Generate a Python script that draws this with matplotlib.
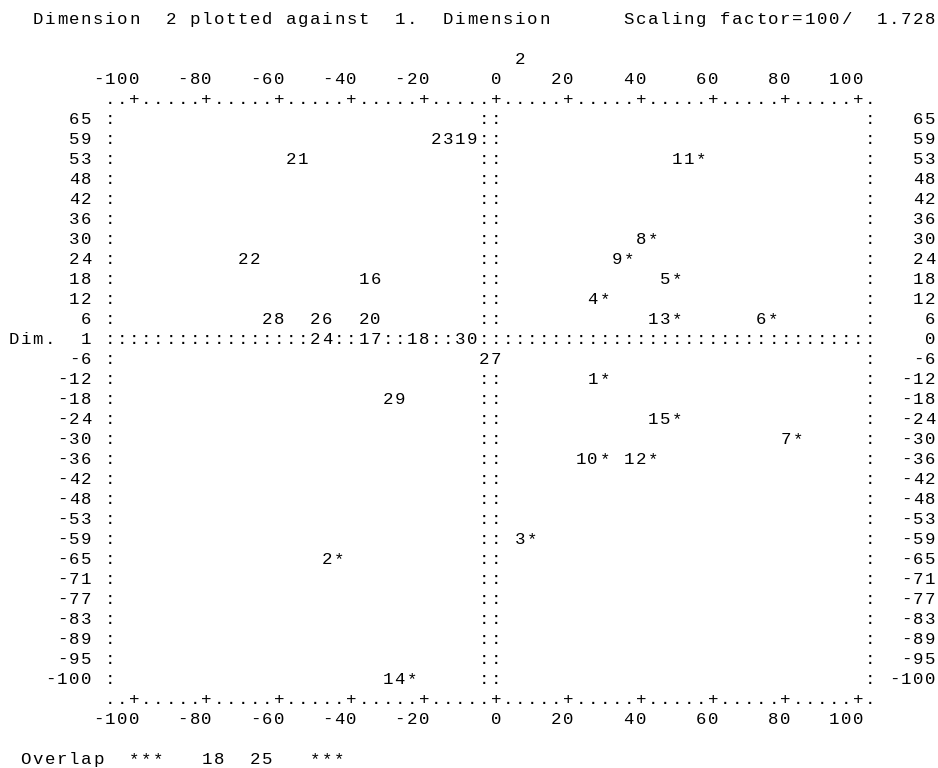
import matplotlib.pyplot as plt

# object labels and their scores on dimension 1 / dimension 2 (x100/1.728)
labels = ['23', '19', '21', '11*', '8*', '22', '9*', '16', '5*', '4*',
          '28', '26', '20', '13*', '6*', '24', '17', '25', '18', '30',
          '27', '1*', '29', '15*', '7*', '10*', '12*', '3*', '2*', '14*']
dim1 = [-17, -10, -57, 50, 40, -70, 33, -37, 47, 27,
        -63, -50, -37, 43, 73, -50, -37, -23, -23, -10,
        -3, 27, -30, 43, 80, 23, 37, 7, -47, -30]
dim2 = [59, 59, 53, 53, 30, 24, 24, 18, 18, 12,
        6, 6, 6, 6, 6, 0, 0, 0, 0, 0,
        -6, -12, -18, -24, -30, -36, -36, -59, -65, -100]

x_ticks = [-100, -80, -60, -40, -20, 0, 20, 40, 60, 80, 100]
y_rows = [65, 59, 53, 48, 42, 36, 30, 24, 18, 12, 6, 0,
          -6, -12, -18, -24, -30, -36, -42, -48, -53, -59, -65,
          -71, -77, -83, -89, -95, -100]
overlap = ['18', '25']

title_left = 'Dimension  2 plotted against  1.  Dimension'
title_right = 'Scaling factor=100/  1.728'

# line-printer page: 77 columns x 38 lines
NCOL, NROW = 77, 38
DX = 20 / 6        # dimension units per column
DY = 100 / 17      # dimension units per line
ZERO_COL, ZERO_ROW = 40, 16
LEFT, RIGHT = 8, 71

grid = [[' '] * NCOL for _ in range(NROW)]


def put(r, c, s):
    for i, ch in enumerate(s):
        if 0 <= c + i < NCOL:
            grid[r][c + i] = ch


def col(x):
    return ZERO_COL + int(x / DX + 0.5 if x >= 0 else x / DX - 0.5)


def row(y):
    return ZERO_ROW - int(y / DY + 0.5 if y >= 0 else y / DY - 0.5)


# frame
for r in range(5, 34):
    grid[r][LEFT] = ':'
    grid[r][RIGHT] = ':'
    grid[r][ZERO_COL - 1] = ':'
    grid[r][ZERO_COL] = ':'
for c in range(LEFT, RIGHT + 1):
    grid[ZERO_ROW][c] = ':'
for r in (4, 34):
    for c in range(LEFT, RIGHT + 1):
        grid[r][c] = '.'

# horizontal axis ticks and labels, top and bottom
for t in x_ticks:
    c = col(t)
    s = str(t)
    grid[4][c] = '+'
    grid[34][c] = '+'
    put(3, c - len(s) + 1, s)
    put(35, c - len(s) + 1, s)
put(2, ZERO_COL + 2, '2')

# vertical scale on both sides
for v in y_rows:
    r = row(v)
    s = str(v)
    if v == 0:
        put(r, 0, 'Dim.  1')
    else:
        put(r, 7 - len(s), s)
    put(r, NCOL - len(s), s)

# points, later labels overwrite earlier ones
for lab, x, y in zip(labels, dim1, dim2):
    put(row(y), col(x), lab)

put(0, 2, title_left)
put(0, 51, title_right)
put(37, 1, 'Overlap')
put(37, 10, '***')
put(37, 16, overlap[0])
put(37, 20, overlap[1])
put(37, 25, '***')

# page geometry in pixels
W, H = 938, 768
CW, RH = 12.06, 20.02
X0, Y0 = 13.7, 18.0

fig = plt.figure(figsize=(W / 100, H / 100), dpi=100)
ax = fig.add_axes([0, 0, 1, 1])
ax.set_xlim(((0 - X0) / CW - ZERO_COL) * DX, ((W - X0) / CW - ZERO_COL) * DX)
ax.set_ylim((ZERO_ROW - (H - Y0) / RH) * DY, (ZERO_ROW + Y0 / RH) * DY)
ax.axis('off')

base = 5.6 / RH * DY   # baseline below line centre
for r in range(NROW):
    for c in range(NCOL):
        ch = grid[r][c]
        if ch != ' ':
            ax.text((c - ZERO_COL) * DX, (ZERO_ROW - r) * DY - base, ch,
                    ha='center', va='baseline', fontsize=12.5,
                    family='Liberation Mono', color='black')

fig.savefig('out.png', dpi=100, facecolor='white')
